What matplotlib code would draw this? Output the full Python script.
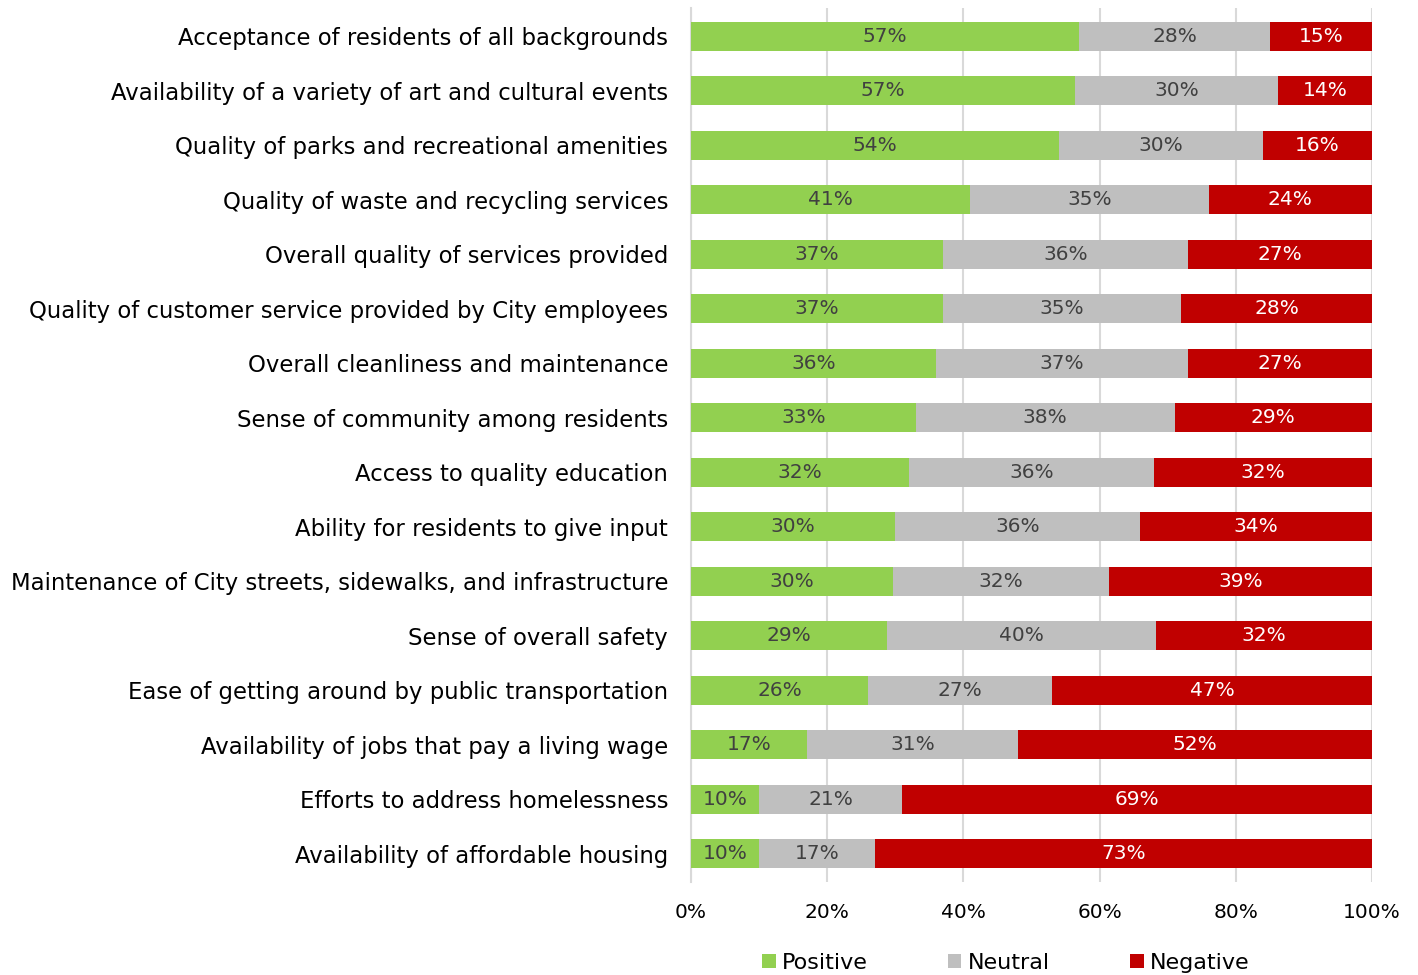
import matplotlib
matplotlib.use("Agg")
import matplotlib.pyplot as plt
import numpy as np

categories = [
    "Acceptance of residents of all backgrounds",
    "Availability of a variety of art and cultural events",
    "Quality of parks and recreational amenities",
    "Quality of waste and recycling services",
    "Overall quality of services provided",
    "Quality of customer service provided by City employees",
    "Overall cleanliness and maintenance",
    "Sense of community among residents",
    "Access to quality education",
    "Ability for residents to give input",
    "Maintenance of City streets, sidewalks, and infrastructure",
    "Sense of overall safety",
    "Ease of getting around by public transportation",
    "Availability of jobs that pay a living wage",
    "Efforts to address homelessness",
    "Availability of affordable housing",
]
positive = [57, 57, 54, 41, 37, 37, 36, 33, 32, 30, 30, 29, 26, 17, 10, 10]
neutral  = [28, 30, 30, 35, 36, 35, 37, 38, 36, 36, 32, 40, 27, 31, 21, 17]
negative = [15, 14, 16, 24, 27, 28, 27, 29, 32, 34, 39, 32, 47, 52, 69, 73]
series_names = ["Positive", "Neutral", "Negative"]
x_ticks = [0, 20, 40, 60, 80, 100]

colors = ["#92D050", "#BFBFBF", "#C00000"]
text_colors = ["#404040", "#404040", "#FFFFFF"]

plt.rcParams['font.family'] = ['DejaVu Sans']

W, H = 1418, 975
fig = plt.figure(figsize=(W / 100, H / 100), dpi=100)
ax = fig.add_axes([691 / W, 1 - 882 / H, (1372 - 691) / W, (882 - 8) / H])

data = np.array([positive, neutral, negative], dtype=float)
totals = data.sum(axis=0)
shares = data / totals * 100
y = np.arange(len(categories))
left = np.zeros(len(categories))
for i in range(3):
    bars = ax.barh(y, shares[i], left=left, height=0.53, color=colors[i],
                   label=series_names[i], zorder=3)
    for j, b in enumerate(bars):
        ax.text(left[j] + shares[i][j] / 2, y[j], f"{int(data[i][j])}%",
                ha="center", va="center", color=text_colors[i], fontsize=14.5,
                zorder=4)
    left += shares[i]

ax.set_ylim(len(categories) - 0.5 + 0.02, -0.5 - 0.02)
ax.set_xlim(0, 100)
ax.set_yticks(y)
ax.set_yticklabels(categories, fontsize=16.4, color="#000000")
ax.set_xticks(x_ticks)
ax.set_xticklabels([f"{t}%" for t in x_ticks], fontsize=14.5, color="#000000")
ax.tick_params(axis="both", length=0)
ax.tick_params(axis="y", pad=16.5)
ax.tick_params(axis="x", pad=15)
ax.grid(axis="x", color="#D9D9D9", linewidth=1.5, zorder=0)
for s in ["top", "right", "bottom"]:
    ax.spines[s].set_visible(False)
ax.spines["left"].set_color("#D9D9D9")
ax.spines["left"].set_linewidth(1.5)

leg = fig.legend(loc="center", bbox_to_anchor=(1006 / W, 1 - 963 / H), ncol=3,
                 frameon=False, fontsize=16, handlelength=0.6, handleheight=0.6,
                 handletextpad=0.3, columnspacing=3.6)

fig.savefig("out.png", dpi=100)
